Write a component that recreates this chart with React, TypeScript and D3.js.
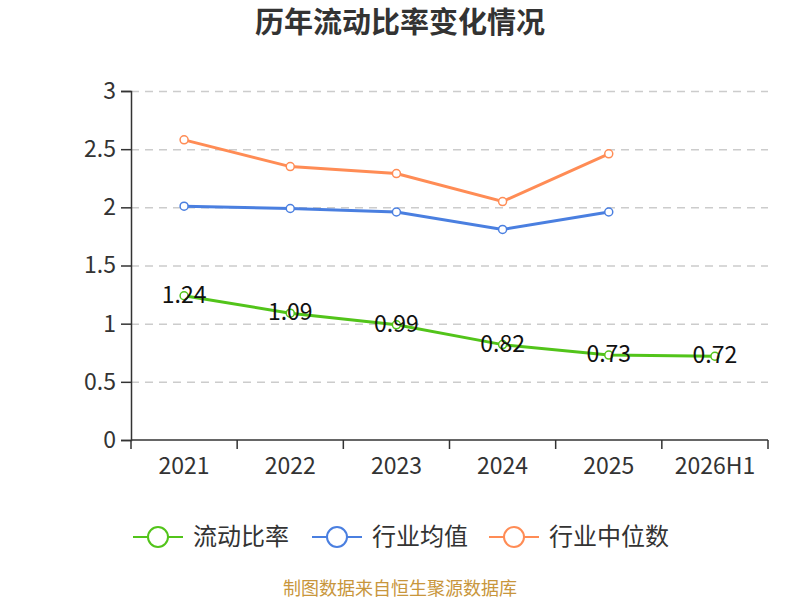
import React, { useEffect, useRef } from 'react';
import * as d3 from 'd3';

const categories = ['2021', '2022', '2023', '2024', '2025', '2026H1'];
const currentRatio = [1.24, 1.09, 0.99, 0.82, 0.73, 0.72];
const industryMean = [2.01, 1.99, 1.96, 1.81, 1.96];
const industryMedian = [2.58, 2.35, 2.29, 2.05, 2.46];
const yTicks = [0, 0.5, 1, 1.5, 2, 2.5, 3];

const seriesList = [
  { name: '流动比率', color: '#52c41a', values: currentRatio, labels: true },
  { name: '行业均值', color: '#4a7fe0', values: industryMean, labels: false },
  { name: '行业中位数', color: '#ff8c55', values: industryMedian, labels: false }
];

const FONT = '"Noto Sans CJK SC", "Noto Sans", sans-serif';

export default function App() {
  const ref = useRef<SVGSVGElement>(null);

  useEffect(() => {
    const width = 800;
    const height = 600;
    const pad = { left: 131, right: 32, top: 91, bottom: 160 };

    const svg = d3.select(ref.current);
    svg.selectAll('*').remove();

    const xScale = d3
      .scaleBand()
      .domain(categories)
      .range([pad.left, width - pad.right]);

    const yScale = d3
      .scaleLinear()
      .domain([0, 3])
      .range([height - pad.bottom, pad.top]);

    // title
    svg
      .append('text')
      .attr('x', width / 2)
      .attr('y', 33)
      .attr('text-anchor', 'middle')
      .attr('font-size', 29)
      .attr('font-weight', 'bold')
      .attr('fill', '#333')
      .text('历年流动比率变化情况');

    // grid lines
    svg
      .append('g')
      .selectAll('line')
      .data(yTicks.filter((t) => t > 0))
      .enter()
      .append('line')
      .attr('x1', pad.left)
      .attr('x2', width - pad.right)
      .attr('y1', (d) => yScale(d) + 0.5)
      .attr('y2', (d) => yScale(d) + 0.5)
      .attr('stroke', '#ccc')
      .attr('stroke-width', 1.5)
      .attr('stroke-dasharray', '8,6');

    // y axis
    const yAxis = svg
      .append('g')
      .attr('transform', `translate(${pad.left},0)`)
      .call(d3.axisLeft(yScale).tickValues(yTicks).tickSize(10).tickPadding(5).tickFormat((d) => String(d)));
    yAxis.select('.domain').attr('stroke', '#333').attr('stroke-width', 1.5);
    yAxis.selectAll('.tick line').attr('stroke', '#333').attr('stroke-width', 1.5);
    yAxis
      .selectAll('.tick text')
      .attr('font-size', 23)
      .attr('font-family', FONT)
      .attr('fill', '#333');

    // x axis
    const xAxisG = svg
      .append('g')
      .attr('transform', `translate(0,${height - pad.bottom})`);
    xAxisG
      .append('line')
      .attr('x1', pad.left)
      .attr('x2', width - pad.right)
      .attr('stroke', '#333')
      .attr('stroke-width', 1.5);
    const bounds = categories.map((c) => xScale(c)!).concat([width - pad.right]);
    xAxisG
      .selectAll('.tk')
      .data(bounds)
      .enter()
      .append('line')
      .attr('x1', (d) => d)
      .attr('x2', (d) => d)
      .attr('y1', 0)
      .attr('y2', 9)
      .attr('stroke', '#333')
      .attr('stroke-width', 1.5);
    xAxisG
      .selectAll('.lbl')
      .data(categories)
      .enter()
      .append('text')
      .attr('x', (d) => xScale(d)! + xScale.bandwidth() / 2)
      .attr('y', 34)
      .attr('text-anchor', 'middle')
      .attr('font-size', 23)
      .attr('font-family', FONT)
      .attr('fill', '#333')
      .text((d) => d);

    const cx = (i: number) => xScale(categories[i])! + xScale.bandwidth() / 2;

    const lineFunction = d3
      .line<number>()
      .x((_, i) => cx(i))
      .y((d) => yScale(d));

    // draw series in back-to-front order
    [...seriesList].reverse().forEach((s) => {
      const g = svg.append('g');
      g.append('path')
        .attr('d', lineFunction(s.values)!)
        .attr('stroke', s.color)
        .attr('stroke-width', 3)
        .attr('fill', 'none');
      g.selectAll('circle')
        .data(s.values)
        .enter()
        .append('circle')
        .attr('cx', (_, i) => cx(i))
        .attr('cy', (d) => yScale(d))
        .attr('r', 4)
        .attr('fill', '#fff')
        .attr('stroke', s.color)
        .attr('stroke-width', 1.5);
      if (s.labels) {
        g.selectAll('.val')
          .data(s.values)
          .enter()
          .append('text')
          .attr('x', (_, i) => cx(i))
          .attr('y', (d) => yScale(d) + 7)
          .attr('text-anchor', 'middle')
          .attr('font-size', 23)
          .attr('font-family', FONT)
          .attr('fill', '#111')
          .text((d) => d.toFixed(2));
      }
    });

    // legend
    const legendX = [133, 312, 489];
    const legend = svg
      .selectAll('.legend')
      .data(seriesList)
      .enter()
      .append('g')
      .attr('transform', (_, i) => `translate(${legendX[i]},537)`);
    legend
      .append('line')
      .attr('x1', 0)
      .attr('x2', 50)
      .attr('stroke', (d) => d.color)
      .attr('stroke-width', 2);
    legend
      .append('circle')
      .attr('cx', 25)
      .attr('r', 10)
      .attr('fill', '#fff')
      .attr('stroke', (d) => d.color)
      .attr('stroke-width', 2);
    legend
      .append('text')
      .attr('x', 60)
      .attr('y', 8)
      .attr('font-size', 24)
      .attr('font-family', FONT)
      .attr('fill', '#333')
      .text((d) => d.name);

    // source
    svg
      .append('text')
      .attr('x', width / 2)
      .attr('y', 595)
      .attr('text-anchor', 'middle')
      .attr('font-size', 18)
      .attr('font-family', FONT)
      .attr('fill', '#c8963c')
      .text('制图数据来自恒生聚源数据库');
  }, []);

  return (
    <svg
      ref={ref}
      width={800}
      height={600}
      style={{ position: 'absolute', left: 0, top: 0, fontFamily: FONT, background: '#fff' }}
    />
  );
}
